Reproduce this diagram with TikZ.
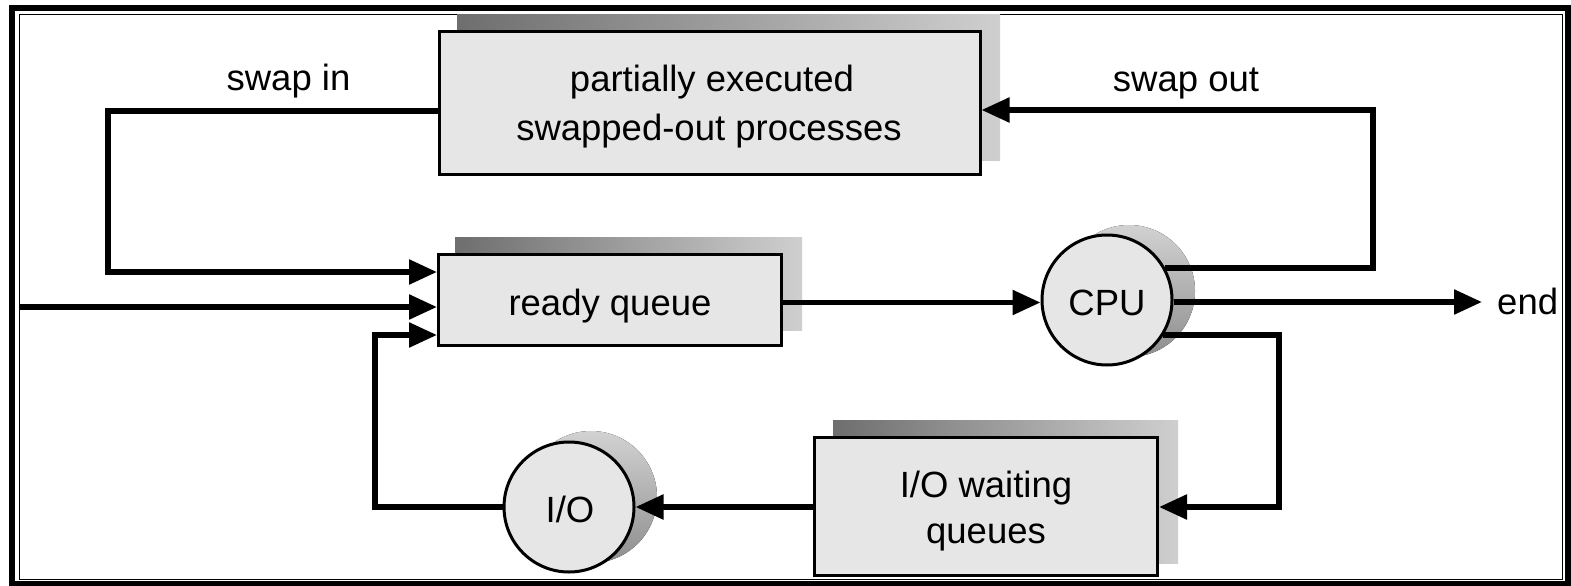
\documentclass[tikz,border=0pt]{standalone}
\usepackage{fontspec}
\setmainfont{Liberation Sans}
\usetikzlibrary{arrows.meta,calc}
\definecolor{boxfill}{HTML}{E6E6E6}
\definecolor{shdark}{HTML}{6E6E6E}
\definecolor{shlight}{HTML}{CFCFCF}
\definecolor{cshtop}{HTML}{D2D2D2}
\definecolor{cshbot}{HTML}{8E8E8E}
\begin{document}
\begin{tikzpicture}[x=1pt,y=-1pt,
  qbox/.style={draw=black, line width=3pt, fill=boxfill, rectangle, inner sep=0pt},
  proc/.style={draw=black, line width=3pt, fill=boxfill, circle, inner sep=0pt, minimum size=130pt},
  boxshadow/.style={left color=shdark, right color=shlight, draw=none},
  circshadow/.style={top color=cshtop, bottom color=cshbot, draw=none},
  lbl/.style={font=\fontsize{36.5}{48}\selectfont, anchor=base, inner sep=0pt},
  flow/.style={line width=5.5pt, line join=miter},
  tip/.style={-{Triangle[length=28pt,width=24pt]}},
]
\useasboundingbox (0,0) rectangle (1571,586);
\fill[white] (0,0) rectangle (1571,586);
% frame
\draw[line width=6pt] (12,8.3) rectangle (1567.5,584);
\draw[line width=1.5pt] (19.5,14.7) rectangle (1562.5,579.5);
% shadows
\fill[boxshadow] (457,15) rectangle (1000,160);
\fill[boxshadow] (455,237) rectangle (802,330);
\fill[boxshadow] (833,420) rectangle (1178,563);
\fill[circshadow] (1129,291) circle (66pt);
\fill[circshadow] (591,497) circle (66pt);
% shapes
\node[qbox, minimum width=541pt, minimum height=143pt] (swapped) at (709.5,103) {};
\node[qbox, minimum width=343pt, minimum height=91pt] (ready) at (610,300) {};
\node[qbox, minimum width=343pt, minimum height=138pt] (iowait) at (986,506.5) {};
\node[proc] (cpu) at (1107,300) {};
\node[proc] (io) at (569,507) {};
% texts
\node[lbl] (t1) at (712,92) {partially executed};
\node[lbl] (t2) at (709,140) {swapped-out processes};
\node[lbl] (tswapin) at (288.5,90) {swap in};
\node[lbl] (tswapout) at (1186,91) {swap out};
\node[lbl] (tready) at (610,315) {ready queue};
\node[lbl] (tcpu) at (1107,315) {CPU};
\node[lbl, anchor=base west] (tend) at (1497,314) {end};
\node[lbl] (tio) at (570,522) {I/O};
\node[lbl] (tiow1) at (986,497) {I/O waiting};
\node[lbl] (tiow2) at (986,543) {queues};
% coordinates
\coordinate (siL) at (108,111);
\coordinate (siB) at (108,272);
\coordinate (inL) at (19.5,307);
\coordinate (ioL) at (375,507);
\coordinate (ioT) at (375,335);
\coordinate (rq) at (0,302.5);
\coordinate (so) at (1373,110);
\coordinate (endpt) at (1482,302);
\coordinate (io1) at (1279,507);
% connectors
\draw[flow,tip] (swapped.west |- siL) -- (siL) -- (siB) -- (siB -| ready.west);
\draw[flow,tip] (inL) -- (inL -| ready.west);
\draw[flow,tip] (io.west) -- (ioL) -- (ioT) -- (ioT -| ready.west);
\draw[flow,tip] (ready.east |- rq) -- (cpu.west |- rq);
\draw[flow,tip] (cpu.29) -| (so) -- (so -| swapped.east);
\draw[flow,tip] (cpu.east |- endpt) -- (endpt);
\draw[flow,tip] (cpu.-32) -| (io1) -- (io1 -| iowait.east);
\draw[flow,tip] (iowait.west |- io.east) -- (io.east);
\end{tikzpicture}
\end{document}
